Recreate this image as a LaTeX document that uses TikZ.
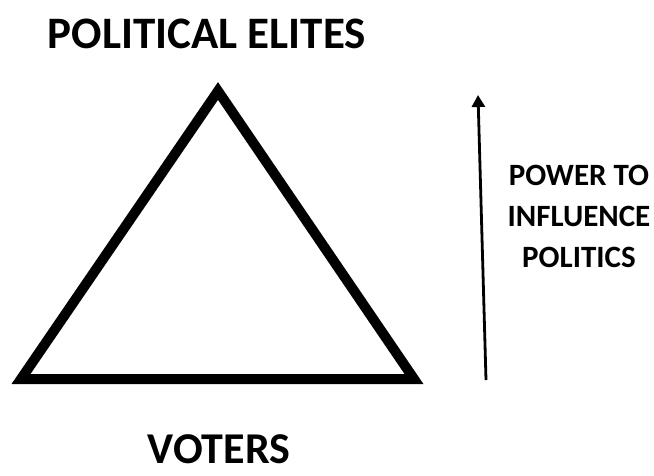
\documentclass[tikz,border=0pt]{standalone}
\usepackage{fontspec}
\setmainfont{Carlito}
\usetikzlibrary{arrows.meta}
\begin{document}
\begin{tikzpicture}[x=1pt,y=-1pt,
  label/.style={inner sep=0pt, font=\bfseries},
  pyramid/.style={line width=10pt, line join=miter, draw=black},
  rise/.style={line width=2.8pt, -{Triangle[length=12pt,width=13pt]}}]
  \useasboundingbox[fill=white] (0,0) rectangle (654,475);
  % pyramid corners
  \coordinate (left) at (21,379);
  \coordinate (apex) at (218,91);
  \coordinate (right) at (414,379);
  \draw[pyramid] (left) -- (apex) -- (right) -- cycle;
  % levels
  \node[label, font=\bfseries\fontsize{45}{49}\selectfont] (elites) at (207,34) {POLITICAL ELITES};
  \node[label, font=\bfseries\fontsize{44}{48}\selectfont] (voters) at (219,449.5) {VOTERS};
  % power axis
  \coordinate (low) at (486,380);
  \coordinate (high) at (478,95);
  \draw[rise] (low) -- (high);
  \node[label, align=center, font=\bfseries\fontsize{31}{41}\selectfont] (power) at (579,216.5) {POWER TO\\INFLUENCE\\POLITICS};
\end{tikzpicture}
\end{document}
